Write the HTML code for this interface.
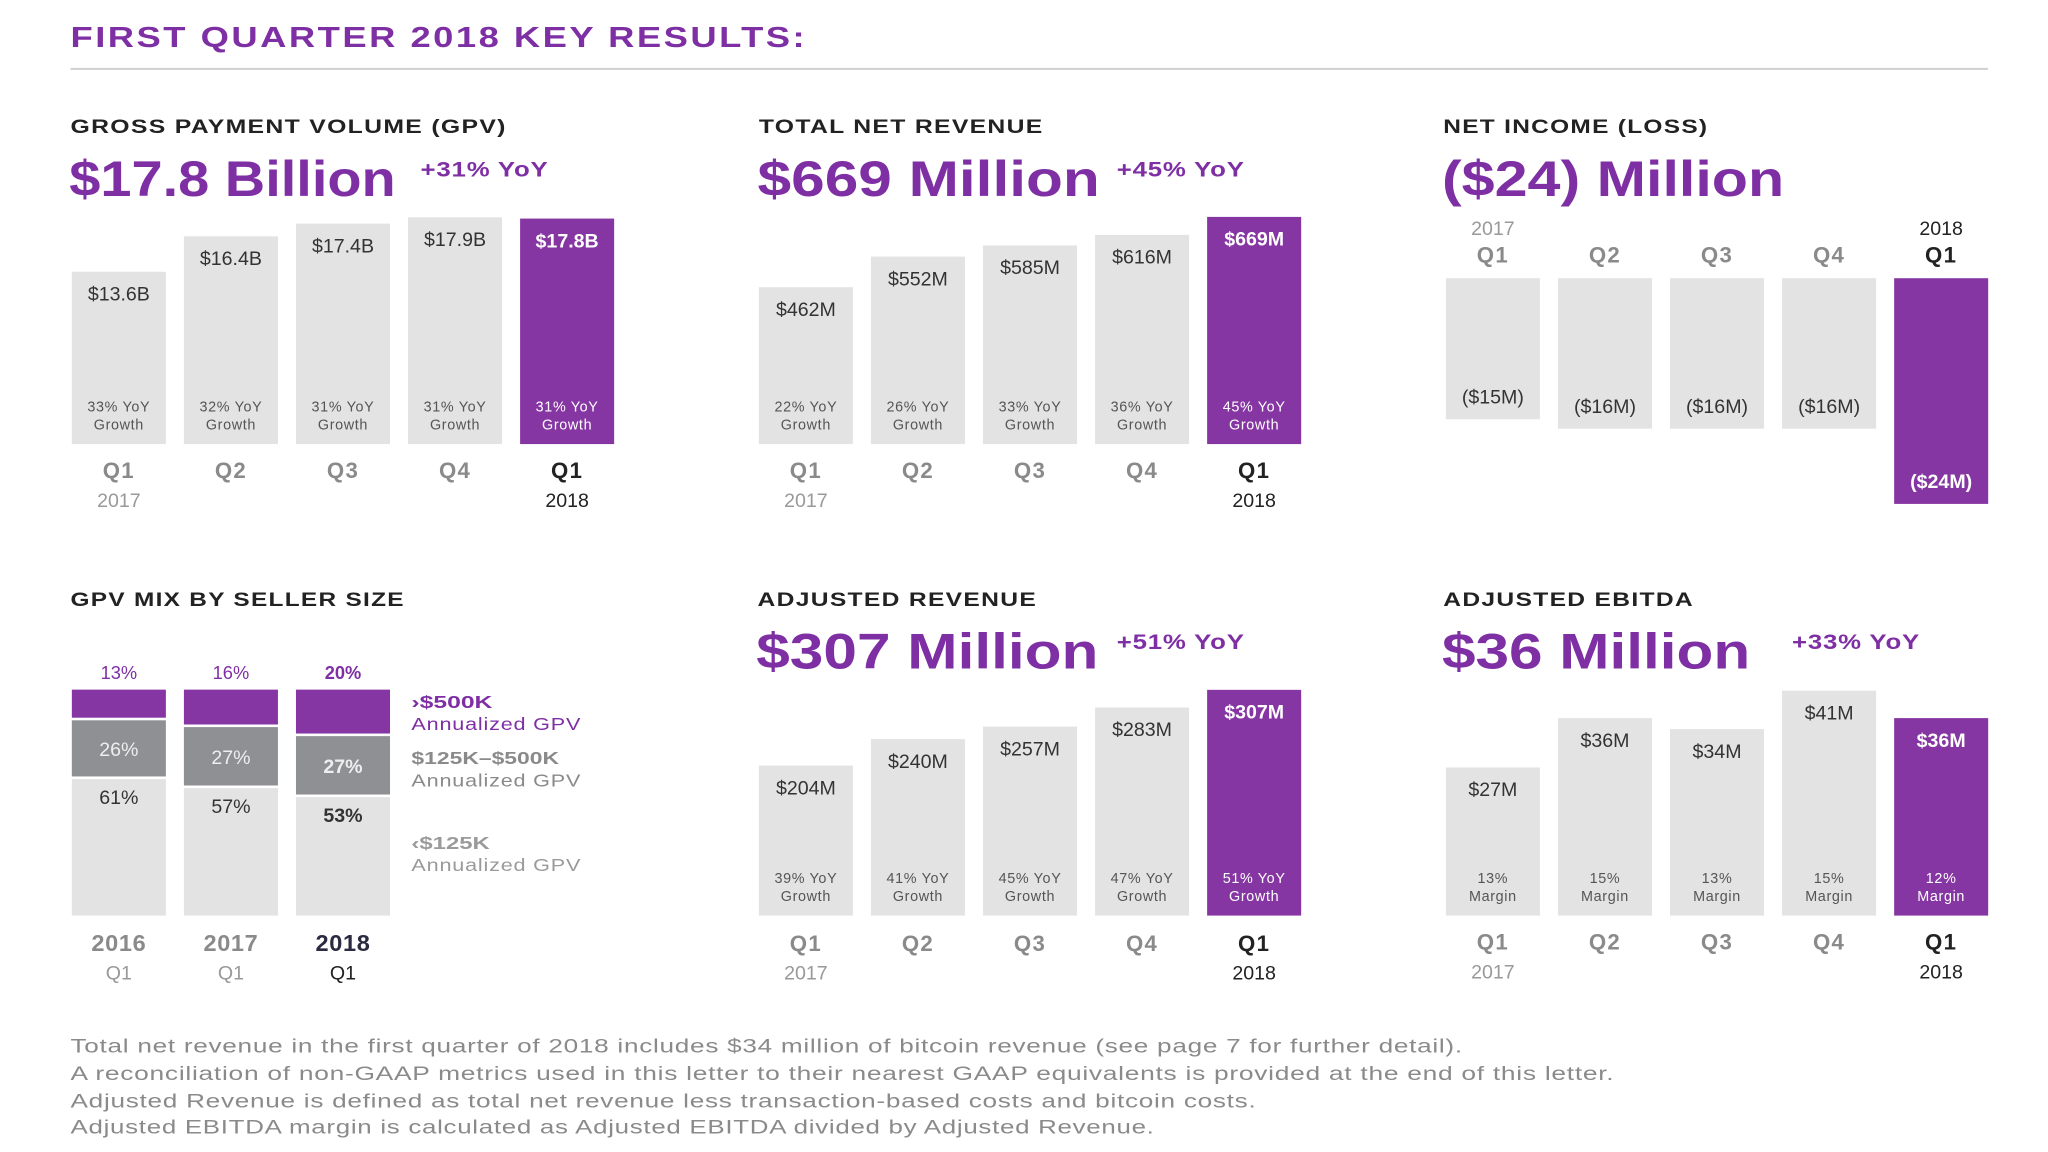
<!DOCTYPE html>
<html><head><meta charset="utf-8"><style>
html,body{margin:0;padding:0;background:#fff;width:2048px;height:1152px;overflow:hidden}
svg{display:block;font-family:"Liberation Sans",sans-serif}
</style></head><body>
<svg id="chart" width="2048" height="1152" viewBox="0 0 1568 882" xmlns="http://www.w3.org/2000/svg">
<text x="54" y="36" font-size="22" font-weight="bold" fill="#7e2fa4" letter-spacing="1.5" textLength="564" lengthAdjust="spacingAndGlyphs">FIRST QUARTER 2018 KEY RESULTS:</text>
<rect x="54" y="52" width="1468" height="1.5" fill="#cfcfcf"/>
<g id="panels"></g>
<g font-size="14.5" fill="#8a8a8a">
<text x="54" y="806" textLength="1066" lengthAdjust="spacingAndGlyphs" letter-spacing="0.4">Total net revenue in the first quarter of 2018 includes $34 million of bitcoin revenue (see page 7 for further detail).</text>
<text x="54" y="827" textLength="1182" lengthAdjust="spacingAndGlyphs" letter-spacing="0.4">A reconciliation of non-GAAP metrics used in this letter to their nearest GAAP equivalents is provided at the end of this letter.</text>
<text x="54" y="848" textLength="908" lengthAdjust="spacingAndGlyphs" letter-spacing="0.4">Adjusted Revenue is defined as total net revenue less transaction-based costs and bitcoin costs.</text>
<text x="54" y="868" textLength="830" lengthAdjust="spacingAndGlyphs" letter-spacing="0.4">Adjusted EBITDA margin is calculated as Adjusted EBITDA divided by Adjusted Revenue.</text>
</g>
</svg>
<script>
const qCats=['Q1','Q2','Q3','Q4','Q1'];
const qYears=['2017','','','','2018'];
const gpvValues=[13.6,16.4,17.4,17.9,17.8];
const gpvLabels=['$13.6B','$16.4B','$17.4B','$17.9B','$17.8B'];
const gpvGrowth=['33%','32%','31%','31%','31%'];
const revValues=[462,552,585,616,669];
const revLabels=['$462M','$552M','$585M','$616M','$669M'];
const revGrowth=['22%','26%','33%','36%','45%'];
const niValues=[-15,-16,-16,-16,-24];
const niLabels=['($15M)','($16M)','($16M)','($16M)','($24M)'];
const adjValues=[204,240,257,283,307];
const adjLabels=['$204M','$240M','$257M','$283M','$307M'];
const adjGrowth=['39%','41%','45%','47%','51%'];
const ebValues=[27,36,34,41,36];
const ebLabels=['$27M','$36M','$34M','$41M','$36M'];
const ebMargin=['13%','15%','13%','15%','12%'];
const mixYears=['2016','2017','2018'];
const mixLarge=[13,16,20];
const mixMid=[26,27,27];
const mixSmall=[61,57,53];

const NS='http://www.w3.org/2000/svg';
const root=document.getElementById('panels');
const PURPLE='#8636a2', TXTP='#7e2fa4', GRAY='#e3e3e4', DARK='#8e9093';
function el(tag,attrs,parent,txt){const e=document.createElementNS(NS,tag);for(const k in attrs)e.setAttribute(k,attrs[k]);if(txt!==undefined)e.textContent=txt;(parent||root).appendChild(e);return e;}
function header(x,y,title,titleW,big,bigW,yoy,yoyX){
  const t=el('text',{x:x,y:y,'font-size':15,'font-weight':'bold',fill:'#222','letter-spacing':0.8,textLength:titleW,lengthAdjust:'spacingAndGlyphs'},root,title);
  
  
  if(big){const b=el('text',{x:x-1,y:y+48,'font-size':38,'font-weight':'bold',fill:TXTP,textLength:bigW,lengthAdjust:'spacingAndGlyphs'},root,big);
  
  }
  if(yoy){const yy=el('text',{x:yoyX,y:y+33,'font-size':16,'font-weight':'bold',fill:TXTP,'letter-spacing':0.5,textLength:98,lengthAdjust:'spacingAndGlyphs'},root,yoy);
  
  }
}
const barX=i=>i*85.8;
function barPanel(x0,bottom,scale,values,labels,sub1,sub2,subY,axisY){
  const g=el('g',{});
  
  
  values.forEach((v,i)=>{
    const x=x0+barX(i), h=v*scale, top=bottom-h, last=i===values.length-1;
    const r=el('rect',{x:x,y:top,width:72,height:h,fill:last?PURPLE:GRAY},g);
    
    
    const l=el('text',{x:x+36,y:top+22,'text-anchor':'middle','font-size':15,fill:last?'#fff':'#333','font-weight':last?'bold':'normal'},g,labels[i]);
    
    
    const s1=el('text',{x:x+36,y:bottom-25,'text-anchor':'middle','font-size':11,fill:last?'#fff':'#555','letter-spacing':0.5},g,sub1[i]+sub2[0]);
    
    
    const s2=el('text',{x:x+36,y:bottom-11,'text-anchor':'middle','font-size':11,fill:last?'#fff':'#555','letter-spacing':0.5},g,sub2[1]);
    
    
    const q=el('text',{x:x+36,y:axisY,'text-anchor':'middle','font-size':17,'font-weight':'bold',fill:last?'#222':'#8a8a8a','letter-spacing':1},g,qCats[i]);
    
    
    if(qYears[i]){const yr=el('text',{x:x+36,y:axisY+22,'text-anchor':'middle','font-size':15,fill:last?'#222':'#999'},g,qYears[i]);
    
    }
  });
}
header(54,102,'GROSS PAYMENT VOLUME (GPV)',334,'$17.8 Billion',250,'+31% YoY',322);
barPanel(55,340,9.7,gpvValues,gpvLabels,gpvGrowth,[' YoY','Growth'],0,366);
header(581,102,'TOTAL NET REVENUE',218,'$669 Million',262,'+45% YoY',855);
barPanel(581,340,0.26,revValues,revLabels,revGrowth,[' YoY','Growth'],0,366);
header(1105,102,'NET INCOME (LOSS)',203,'($24) Million',262,null,0);
(function(){
  const g=el('g',{});
  
  
  niValues.forEach((v,i)=>{
    const x=1107+barX(i), h=-v*7.2, last=i===niValues.length-1;
    const r=el('rect',{x:x,y:213,width:72,height:h,fill:last?PURPLE:GRAY},g);
    
    
    const l=el('text',{x:x+36,y:213+h-12,'text-anchor':'middle','font-size':15,fill:last?'#fff':'#333','font-weight':last?'bold':'normal'},g,niLabels[i]);
    
    
    const q=el('text',{x:x+36,y:201,'text-anchor':'middle','font-size':17,'font-weight':'bold',fill:last?'#222':'#8a8a8a','letter-spacing':1},g,qCats[i]);
    
    
    if(qYears[i]){const yr=el('text',{x:x+36,y:180,'text-anchor':'middle','font-size':15,fill:last?'#222':'#999'},g,qYears[i]);
    
    }
  });
})();
header(54,464,'GPV MIX BY SELLER SIZE',256,null,0,null,0);
(function(){
  const g=el('g',{});
  
  
  const top=528,H=173;
  mixYears.forEach((yv,i)=>{
    const x=55+barX(i), last=i===mixYears.length-1;
    const h1=mixLarge[i]/100*H, h2=mixMid[i]/100*H, h3=mixSmall[i]/100*H;
    const r1=el('rect',{x:x,y:top,width:72,height:h1-1,fill:PURPLE},g);
    
    
    const r2=el('rect',{x:x,y:top+h1+1,width:72,height:h2-2,fill:DARK},g);
    
    
    const r3=el('rect',{x:x,y:top+h1+h2+1,width:72,height:h3-1,fill:GRAY},g);
    
    
    const a=el('text',{x:x+36,y:top-8,'text-anchor':'middle','font-size':14,fill:TXTP,'font-weight':last?'bold':'normal'},g,mixLarge[i]+'%');
    
    
    const b=el('text',{x:x+36,y:top+h1+h2/2+6,'text-anchor':'middle','font-size':15,fill:'#eee','font-weight':last?'bold':'normal'},g,mixMid[i]+'%');
    
    
    const c=el('text',{x:x+36,y:top+h1+h2+20,'text-anchor':'middle','font-size':15,fill:'#333','font-weight':last?'bold':'normal'},g,mixSmall[i]+'%');
    
    
    const yr=el('text',{x:x+36,y:728,'text-anchor':'middle','font-size':18,'font-weight':'bold',fill:last?'#2a2a40':'#8a8a8a','letter-spacing':0.5},g,yv);
    
    
    const q=el('text',{x:x+36,y:750,'text-anchor':'middle','font-size':15,fill:last?'#222':'#999'},g,'Q1');
    
    
  });
  const L=[['›$500K','Annualized GPV',542,TXTP,62],['$125K–$500K','Annualized GPV',585,'#8a8a8a',113],['‹$125K','Annualized GPV',650,'#9a9a9a',60]];
  L.forEach(l=>{
    const t=el('text',{x:315,y:l[2],'font-size':13.5,'font-weight':'bold',fill:l[3],textLength:l[4],lengthAdjust:'spacingAndGlyphs'},g,l[0]);
    
    
    const t2=el('text',{x:315,y:l[2]+17,'font-size':13.5,fill:l[3],'letter-spacing':0.5,textLength:130,lengthAdjust:'spacingAndGlyphs'},g,l[1]);
    
    
  });
})();
header(580,464,'ADJUSTED REVENUE',214,'$307 Million',262,'+51% YoY',855);
barPanel(581,701,0.563,adjValues,adjLabels,adjGrowth,[' YoY','Growth'],0,728);
header(1105,464,'ADJUSTED EBITDA',192,'$36 Million',236,'+33% YoY',1372);
barPanel(1107,701,4.2,ebValues,ebLabels,ebMargin,['','Margin'],0,727);
</script>
</body></html>
